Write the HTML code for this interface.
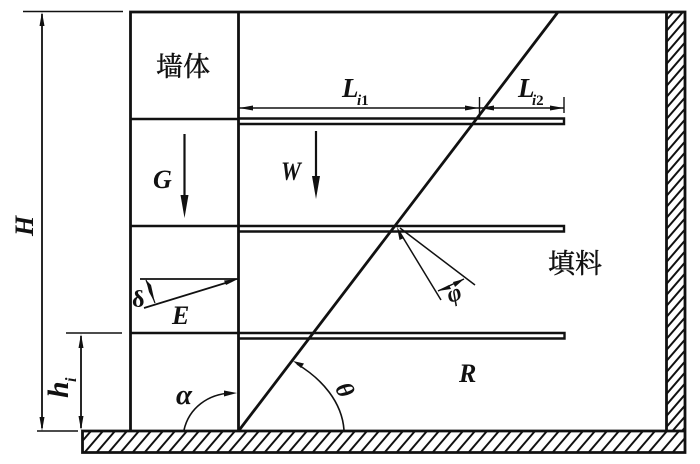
<!DOCTYPE html>
<html><head><meta charset="utf-8"><style>
html,body{margin:0;padding:0;background:#fff;width:700px;height:464px;overflow:hidden}
svg{display:block}
text{fill:#111}
.m{font-family:"Liberation Serif",serif;font-style:italic;font-weight:bold}
.c{font-family:"Liberation Serif","Noto Serif CJK SC",serif;font-size:27px;stroke:#111;stroke-width:.45px}
</style></head><body>
<svg width="700" height="464" viewBox="0 0 700 464" xmlns="http://www.w3.org/2000/svg">
<defs>
<pattern id="h" width="12" height="21" patternUnits="userSpaceOnUse" patternTransform="translate(82 431)">
<path d="M-9 21L9 0M3 21L21 0" stroke="#111" stroke-width="2" fill="none"/>
</pattern>
<pattern id="v" width="19" height="11" patternUnits="userSpaceOnUse" patternTransform="translate(666 12)">
<path d="M0 19.5L19 -2.5M0 8.5L19 -13.5M0 30.5L19 8.5" stroke="#111" stroke-width="2" fill="none"/>
</pattern>
</defs>
<rect width="700" height="464" fill="#fff"/>

<!-- hatch -->
<rect x="83" y="431" width="602" height="21" fill="url(#h)"/>
<rect x="667" y="13" width="18" height="418" fill="url(#v)"/>

<g fill="none" stroke="#111">
<!-- frame and walls -->
<path d="M130.5 431V12H685V452.5H82.5V431H685" stroke-width="2.8"/>
<path d="M666.5 12V431" stroke-width="2.8"/>
<path d="M238.5 12V431" stroke-width="2.8"/>
<path d="M130.5 119H238.5M130.5 226H238.5M130.5 333H238.5" stroke-width="2.6"/>
<!-- reinforcement strips -->
<path d="M238.5 118.5H564V124H238.5" stroke-width="2.4"/>
<path d="M238.5 226H564V231.5H238.5" stroke-width="2.4"/>
<path d="M238.5 333H564.5V338.5H238.5" stroke-width="2.4"/>
<!-- slip line -->
<path d="M238.5 431L558 12" stroke-width="2.8"/>
<!-- dimension lines -->
<path d="M23 11.5H123M37 431H78M66 333H122" stroke-width="1.4"/>
<path d="M42 14V428M81 336V428" stroke-width="1.8"/>
<path d="M239 108H564M479.5 97V118M564 97V113" stroke-width="1.4"/>
<!-- force arrows -->
<path d="M184.5 134V205M316 131V188" stroke-width="2.2"/>
<path d="M140 279H238M144 308L232 281" stroke-width="1.7"/>
<path d="M146 280L155 303" stroke-width="1.2"/>
<!-- arcs -->
<path d="M184 430C189 408 208 394 231 393" stroke-width="1.6"/>
<path d="M344 430C342 402 322 379 297 364" stroke-width="1.6"/>
<!-- friction lines -->
<path d="M399 231L441 300M400 228L475 285M438 291L464 279" stroke-width="1.5"/>
</g>

<!-- arrowheads -->
<g fill="#111">
<path d="M42 12L39.5 26H44.5Z"/>
<path d="M42 431L39.5 417H44.5Z"/>
<path d="M81 334L78.5 348H83.5Z"/>
<path d="M81 430L78.5 416H83.5Z"/>
<path d="M239 108L253 105.5V110.5Z"/>
<path d="M479 108L465 105.5V110.5Z"/>
<path d="M480 108L494 105.5V110.5Z"/>
<path d="M564 108L550 105.5V110.5Z"/>
<path d="M184.5 218L180.5 195H188.5Z"/>
<path d="M316 199L312 176H320Z"/>
<path d="M238 279L224 280.5L226 285Z"/>
<path d="M146 280L151 285L155 303L149 292Z"/>
<path d="M237 393L224 390.5V396.5Z"/>
<path d="M293 361L304 363.5L301 368Z"/>
<path d="M397 227L404 238L399.5 240Z"/>
<path d="M438 291L449 285L451 289Z"/>
<path d="M464 279L453 282L455 287Z"/>
</g>

<!-- labels -->
<text class="c" x="156" y="76">墙体</text>
<text class="c" x="548" y="273">填料</text>
<text class="m" font-size="27" x="342" y="97">L</text>
<text class="m" font-size="15" x="357" y="105">i<tspan font-style="normal">1</tspan></text>
<text class="m" font-size="27" x="518" y="97">L</text>
<text class="m" font-size="15" x="532" y="105">i<tspan font-style="normal">2</tspan></text>
<text class="m" font-size="26" x="153" y="188">G</text>
<text class="m" font-size="26" transform="translate(281 180) scale(.86 1)">W</text>
<text class="m" font-size="26" x="172" y="324">E</text>
<text class="m" font-size="26" x="459" y="382">R</text>
<text class="m" font-size="29" x="176" y="404">α</text>
<text font-family="'Liberation Serif',serif" font-weight="bold" font-size="24" x="132" y="307">δ</text>
<text class="m" font-size="26" transform="translate(33 236) rotate(-90)">H</text>
<text class="m" font-size="30" transform="translate(68 398) rotate(-90)">h</text>
<text class="m" font-size="16" transform="translate(76 382) rotate(-90)">i</text>
<text class="m" font-size="25" transform="translate(356 392) rotate(-117)">θ</text>
<text class="m" font-size="24" transform="translate(450 303) rotate(-20)">φ</text>
</svg>
</body></html>
